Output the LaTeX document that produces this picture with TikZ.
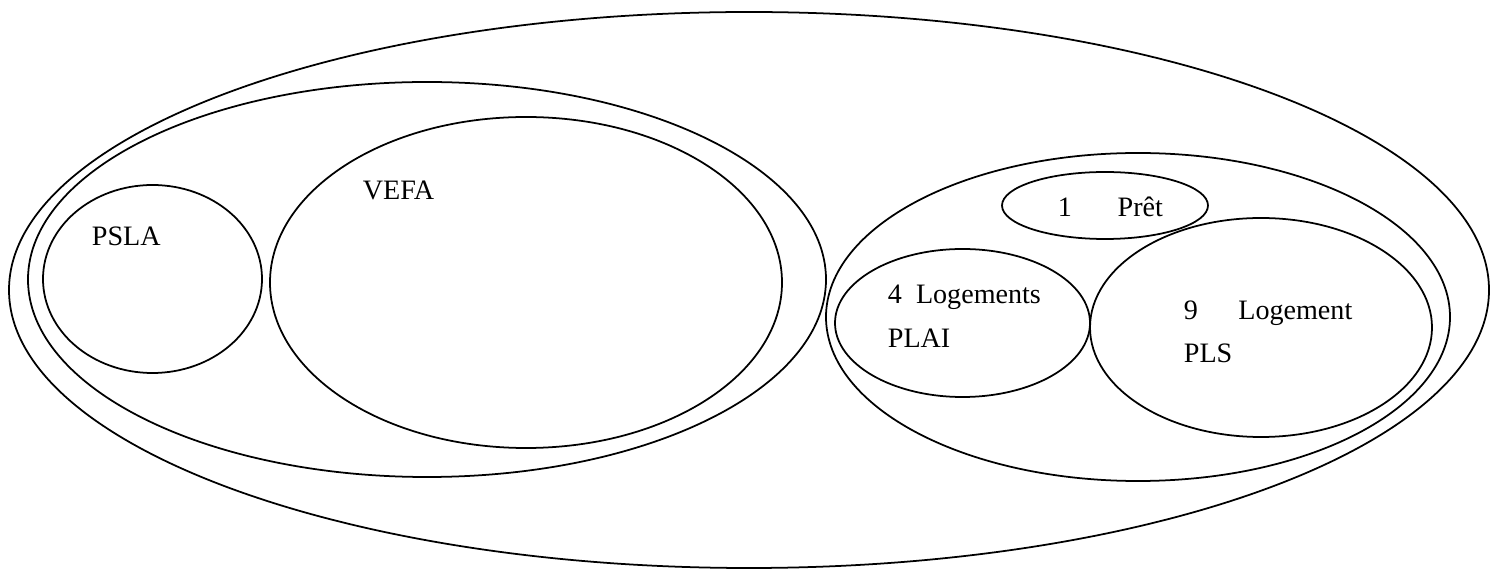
\documentclass[tikz,border=0pt]{standalone}
\usepackage{fontspec}
\setmainfont{Liberation Serif}
\usetikzlibrary{positioning}

\begin{document}
\begin{tikzpicture}[x=0.02cm,y=-0.02cm,line width=1pt,
  lbl/.style={anchor=base west,inner sep=0pt,font=\fontsize{16}{19}\selectfont}]

\useasboundingbox (0,0) rectangle (1491,570);

\coordinate (all) at (749,290);
\coordinate (acces) at (427,279.5);
\coordinate (psla) at (152.5,279);
\coordinate (vefa) at (526,282.5);
\coordinate (social) at (1138,317);
\coordinate (pret) at (1105,205.5);
\coordinate (plai) at (962.5,323);
\coordinate (pls) at (1261,327.5);

\foreach \c/\rx/\ry in {all/740/278, acces/399/197.5, psla/109.5/94,
    vefa/256/165.5, social/312/164, pret/103/33.5, plai/127.5/74, pls/171/109.5}
    \draw (\c) ellipse [x radius=\rx, y radius=\ry];

\node[lbl] (psla text) at (91,246) {PSLA};
\node[lbl] (vefa text) at (362,200) {VEFA};
\node[lbl] (pret text) at (1057,217) {1\hspace{26pt}Prêt};
\node[lbl] (plai text) at (887,304) {4\hspace{8pt}Logements};
\node[lbl] (plai text2) at (887,348) {PLAI};
\node[lbl] (pls text) at (1183,320) {9\hspace{23pt}Logement};
\node[lbl] (pls text2) at (1183,363) {PLS};

\end{tikzpicture}
\end{document}
